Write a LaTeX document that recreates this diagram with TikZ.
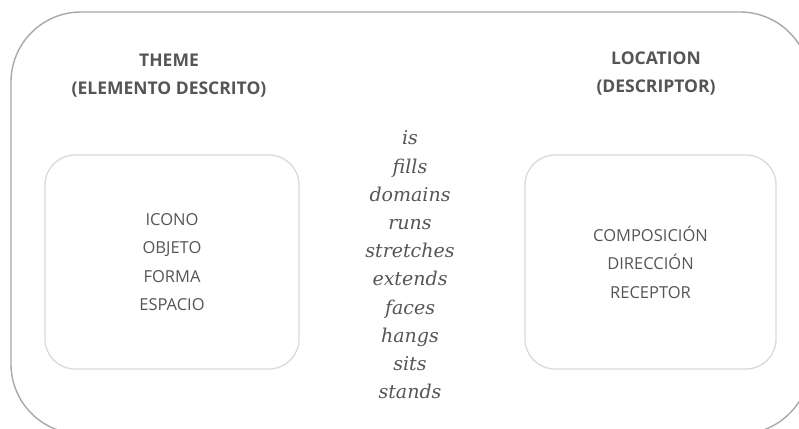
\documentclass[tikz,border=0pt]{standalone}
\usepackage{fontspec}
\setmainfont{Open Sans}
\newfontfamily\verbfont{DejaVu Serif}
\definecolor{txtgray}{HTML}{555555}
\definecolor{framegray}{HTML}{A8A8A8}
\definecolor{boxgray}{HTML}{DADADA}
\tikzset{
  frame/.style={draw=framegray, line width=1.4pt, rounded corners=70pt},
  catbox/.style={draw=boxgray, line width=1.3pt, rounded corners=30pt, minimum width=254pt, minimum height=214pt, align=center, text=txtgray, font=\fontsize{16.5}{28.5}\selectfont},
  header/.style={align=center, text=txtgray, font=\fontsize{17.5}{28}\selectfont\bfseries},
  verbs/.style={align=center, text=txtgray, font=\verbfont\itshape\fontsize{19}{28.2}\selectfont}
}
\begin{document}
\begin{tikzpicture}[x=1pt,y=-1pt]
\useasboundingbox (0,0) rectangle (799,428);
\begin{scope}
\clip (0,0) rectangle (799,428);
\draw[frame] (11,12) rectangle (810,434);
\end{scope}
\node[header] (theme) at (169,76) {THEME\\(ELEMENTO DESCRITO)};
\node[header] (location) at (656,74) {LOCATION\\(DESCRIPTOR)};
\node[catbox] (left) at (172,262) {ICONO\\OBJETO\\FORMA\\ESPACIO};
\node[catbox, minimum width=251pt] (right) at (650.5,262) {COMPOSICIÓN\\DIRECCIÓN\\RECEPTOR};
\node[verbs] (mid) at (410,265) {is\\fills\\domains\\runs\\stretches\\extends\\faces\\hangs\\sits\\stands};
\end{tikzpicture}
\end{document}
